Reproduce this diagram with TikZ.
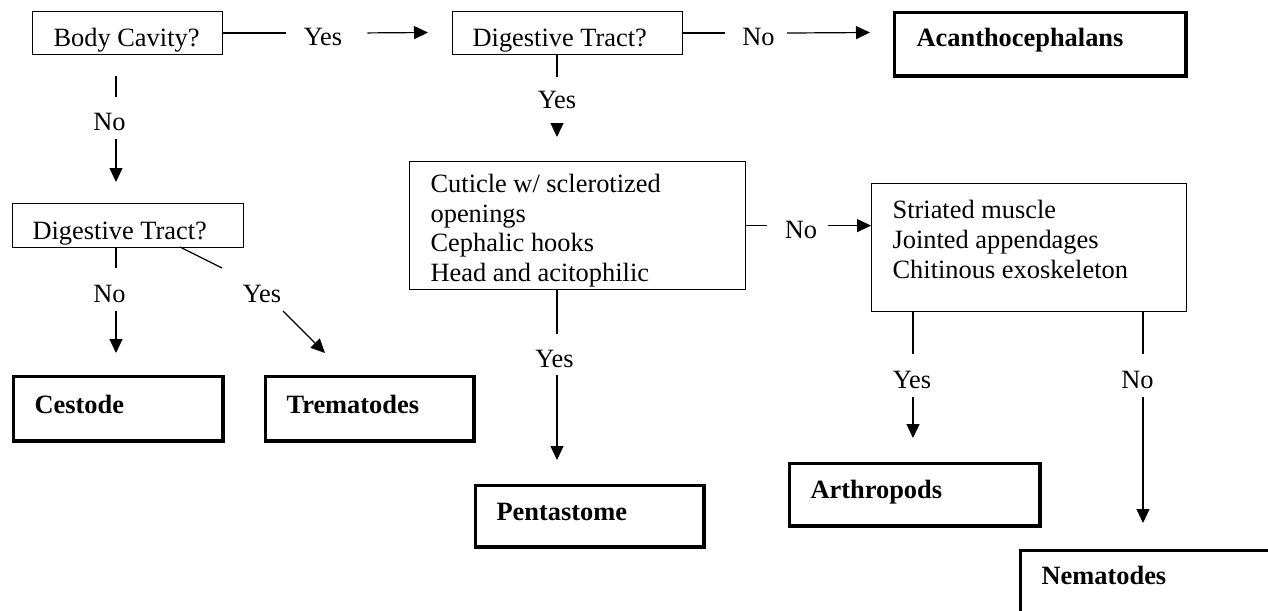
\documentclass[tikz,border=0pt]{standalone}
\usepackage{fontspec}
\setmainfont{Liberation Serif}
\usetikzlibrary{arrows.meta}
\newcommand{\padtext}[3]{\makebox[#1][l]{\hspace*{#2}#3}}
\begin{document}
\begin{tikzpicture}[x=1pt,y=-1pt,
  font=\fontsize{26.4}{30}\selectfont,
  box/.style={draw, line width=1.2pt, inner sep=0pt, anchor=north west},
  tbox/.style={box, line width=3.2pt, font=\fontsize{26.4}{30}\selectfont\bfseries},
  lbl/.style={inner sep=0pt, anchor=base},
  conn/.style={line width=1.2pt},
  arr/.style={conn, -{Triangle[length=14pt,width=13pt]}}]
\useasboundingbox (0,0) rectangle (1268,610);
\clip (0,0) rectangle (1268,610);

% question boxes
\node[box, minimum width=190pt, minimum height=43pt, text height=27pt, text depth=0pt] (bc) at (32,11)
  {\padtext{190pt}{21pt}{Body Cavity?}};
\node[box, minimum width=230pt, minimum height=43pt, text height=27pt, text depth=0pt] (dt1) at (452,11)
  {\padtext{230pt}{20pt}{Digestive Tract?}};
\node[box, minimum width=231pt, minimum height=44pt, text height=28pt, text depth=0pt] (dt2) at (12,203)
  {\padtext{231pt}{20pt}{Digestive Tract?}};
\node[box, minimum width=336pt, minimum height=128pt, text height=0pt, text depth=66pt] (cut) at (409,161)
  {\padtext{336pt}{21pt}{\parbox[t]{300pt}{\fontsize{26.4}{29.5}\selectfont Cuticle w/ sclerotized\\ openings\\ Cephalic hooks\\ Head and acitophilic}}};
\node[box, minimum width=315pt, minimum height=128pt, text height=0pt, text depth=58pt] (str) at (871,183)
  {\padtext{315pt}{21pt}{\parbox[t]{290pt}{\fontsize{26.4}{30}\selectfont Striated muscle\\ Jointed appendages\\ Chitinous exoskeleton}}};

% result boxes
\node[tbox, minimum width=291.8pt, minimum height=63.8pt, text height=5pt, text depth=0pt] (acan) at (892.6,10.6)
  {\padtext{291.8pt}{22.4pt}{Acanthocephalans}};
\node[tbox, minimum width=209.8pt, minimum height=64.8pt, text height=10pt, text depth=0pt] (ces) at (11.6,374.6)
  {\padtext{209.8pt}{21.4pt}{Cestode}};
\node[tbox, minimum width=208.8pt, minimum height=64.8pt, text height=10pt, text depth=0pt] (tre) at (263.6,374.6)
  {\padtext{208.8pt}{21.4pt}{Trematodes}};
\node[tbox, minimum width=228.8pt, minimum height=61.8pt, text height=9pt, text depth=0pt] (pen) at (473.6,483.6)
  {\padtext{228.8pt}{21.4pt}{Pentastome}};
\node[tbox, minimum width=250.8pt, minimum height=62.8pt, text height=8pt, text depth=0pt] (arth) at (787.6,461.6)
  {\padtext{250.8pt}{21.4pt}{Arthropods}};
\node[tbox, minimum width=269.8pt, minimum height=86.8pt, text height=0pt, text depth=18pt] (nem) at (1018.6,548.6)
  {\padtext{269.8pt}{21.4pt}{Nematodes}};

% labels
\node[lbl] (yes1) at (323,46) {Yes};
\node[lbl] (no1) at (758.5,46) {No};
\node[lbl] (yes2) at (557,108) {Yes};
\node[lbl] (no2) at (801,238) {No};
\node[lbl] (no3) at (109.5,130) {No};
\node[lbl] (no4) at (109.5,302) {No};
\node[lbl] (yes3) at (262,302) {Yes};
\node[lbl] (yes4) at (554.5,367) {Yes};
\node[lbl] (yes5) at (912,388) {Yes};
\node[lbl] (no5) at (1137.5,388) {No};

% arrow tips and free ends
\coordinate (t1) at (428,32.5);
\coordinate (t2) at (870,32.5);
\coordinate (t3) at (116,182);
\coordinate (t4) at (557,137);
\coordinate (t5) at (116,353);
\coordinate (t6) at (557,460);
\coordinate (t7) at (913,438);
\coordinate (t8) at (1143,523);
\coordinate (d1) at (180,247);
\coordinate (d2) at (222,268);
\coordinate (d3) at (283,311);
\coordinate (d4) at (325,353);

% horizontal connectors
\draw[conn, shorten >=18pt] (bc.east) -- (bc.east -| yes1.west);
\draw[arr, shorten <=25pt] (bc.east -| yes1.east) -- (t1);
\draw[conn, shorten >=17pt] (dt1.east) -- (dt1.east -| no1.west);
\draw[arr, shorten <=12pt] (dt1.east -| no1.east) -- (t2);
\draw[conn, shorten >=18pt] (cut.east) -- (cut.east -| no2.west);
\draw[arr, shorten <=11pt] (cut.east -| no2.east) -- (cut.east -| str.west);

% vertical connectors
\draw[conn, shorten <=21pt, shorten >=16pt] (t3 |- bc.south) -- (t3 |- no3.north);
\draw[arr, shorten <=9pt] (t3 |- no3.south) -- (t3);
\draw[conn, shorten >=14pt] (t4 |- dt1.south) -- (t4 |- yes2.north);
\draw[arr, shorten <=15pt] (t4 |- yes2.south) -- (t4);
\draw[conn, shorten >=17pt] (t5 |- dt2.south) -- (t5 |- no4.north);
\draw[arr, shorten <=9pt] (t5 |- no4.south) -- (t5);
\draw[conn] (d1) -- (d2);
\draw[arr] (d3) -- (d4);
\draw[conn, shorten >=16pt] (t6 |- cut.south) -- (t6 |- yes4.north);
\draw[arr, shorten <=8pt] (t6 |- yes4.south) -- (t6);
\draw[conn, shorten >=17pt] (t7 |- str.south) -- (t7 |- yes5.north);
\draw[arr, shorten <=9pt] (t7 |- yes5.south) -- (t7);
\draw[conn, shorten >=17pt] (t8 |- str.south) -- (t8 |- no5.north);
\draw[arr, shorten <=9pt] (t8 |- no5.south) -- (t8);
\end{tikzpicture}
\end{document}
